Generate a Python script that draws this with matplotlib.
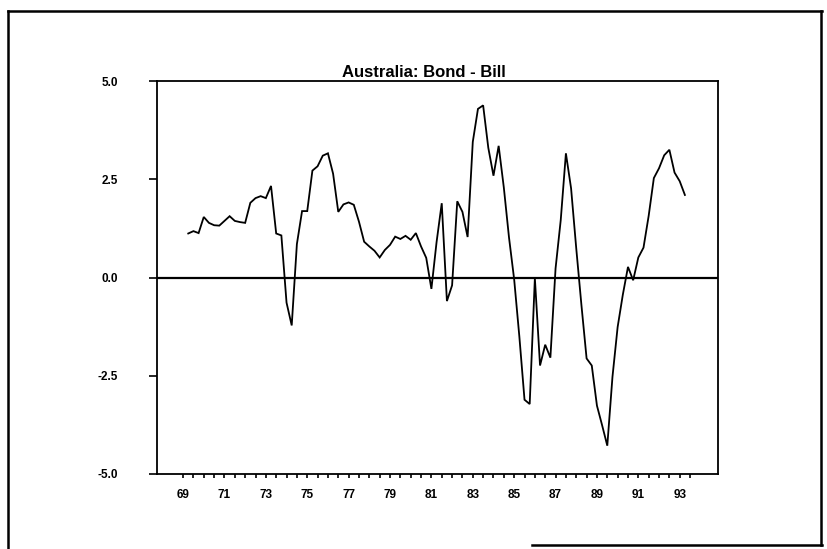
import numpy as np
import matplotlib
matplotlib.use("Agg")
import matplotlib.pyplot as plt
from matplotlib.lines import Line2D
from matplotlib.ticker import FixedLocator, FixedFormatter

# Australia: long bond yield minus bill rate, quarterly, 1969Q2 - 1993Q2
start_year = 1969.25
spread = [
    1.12, 1.18, 1.13, 1.54, 1.39, 1.33, 1.32, 1.44, 1.56, 1.44,
    1.41, 1.39, 1.90, 2.02, 2.07, 2.02, 2.33, 1.12, 1.07, -0.64,
    -1.22, 0.85, 1.69, 1.69, 2.72, 2.83, 3.10, 3.16, 2.64, 1.67,
    1.86, 1.91, 1.85, 1.42, 0.91, 0.79, 0.68, 0.51, 0.70, 0.83,
    1.04, 0.98, 1.06, 0.96, 1.13, 0.79, 0.50, -0.29, 0.90, 1.89,
    -0.60, -0.20, 1.94, 1.67, 1.03, 3.45, 4.29, 4.38, 3.30, 2.59,
    3.35, 2.29, 1.02, -0.05, -1.50, -3.11, -3.22, -0.02, -2.24, -1.71,
    -2.04, 0.23, 1.46, 3.16, 2.27, 0.74, -0.70, -2.06, -2.24, -3.26,
    -3.76, -4.28, -2.53, -1.26, -0.44, 0.27, -0.07, 0.51, 0.76, 1.57,
    2.53, 2.78, 3.11, 3.25, 2.67, 2.45, 2.10,
]
years = start_year + 0.25 * np.arange(len(spread))

ytick_vals = [-5.0, -2.5, 0.0, 2.5, 5.0]
ytick_labels = ["-5.0", "-2.5", "0.0", "2.5", "5.0"]
xtick_years = list(range(1969, 1994, 2))
xtick_labels = ["69", "71", "73", "75", "77", "79", "81", "83", "85", "87", "89", "91", "93"]
title = "Australia: Bond - Bill"

W, H = 828, 549
fig = plt.figure(figsize=(W / 100, H / 100), dpi=100)
fig.patch.set_facecolor("white")

families = ["Liberation Sans", "DejaVu Sans"]

# axes box in pixel units
left, right, top, bottom = 157, 718, 81, 474
ax = fig.add_axes([left / W, 1 - bottom / H, (right - left) / W, (bottom - top) / H])

ax.plot(years, spread, color="black", lw=1.3, solid_joinstyle="miter")
ax.axhline(0.0, color="black", lw=1.6)

ax.set_ylim(-5, 5)
ax.set_xlim(1967.74, 1994.85)

ax.yaxis.set_major_locator(FixedLocator(ytick_vals))
ax.yaxis.set_major_formatter(FixedFormatter(ytick_labels))
ax.xaxis.set_major_locator(FixedLocator(xtick_years))
ax.xaxis.set_major_formatter(FixedFormatter(xtick_labels))
ax.xaxis.set_minor_locator(FixedLocator(np.arange(1969, 1994.0, 0.5)))

ax.tick_params(axis="y", direction="out", length=6, width=1.2, pad=22, labelsize=8.5)
ax.tick_params(axis="x", which="both", direction="out", length=3, width=1.2, pad=8, labelsize=8.5)
for lbl in ax.get_xticklabels() + ax.get_yticklabels():
    lbl.set_fontfamily(families)
    lbl.set_fontweight("bold")

for sp in ax.spines.values():
    sp.set_linewidth(1.3)

fig.text(424 / W, 1 - 77 / H, title, ha="center", va="baseline", fontsize=12,
         family=families, fontweight="bold")

# page border
lw = 1.8
border = [
    ((8, 822), (11, 11)),
    ((8, 8), (11, 549)),
    ((821, 821), (11, 545)),
    ((532, 822), (545, 545)),
]
for xs, ys in border:
    fig.add_artist(Line2D([x / W for x in xs], [1 - y / H for y in ys],
                          transform=fig.transFigure, color="black", lw=lw))

fig.savefig("out.png", dpi=100, facecolor="white")
